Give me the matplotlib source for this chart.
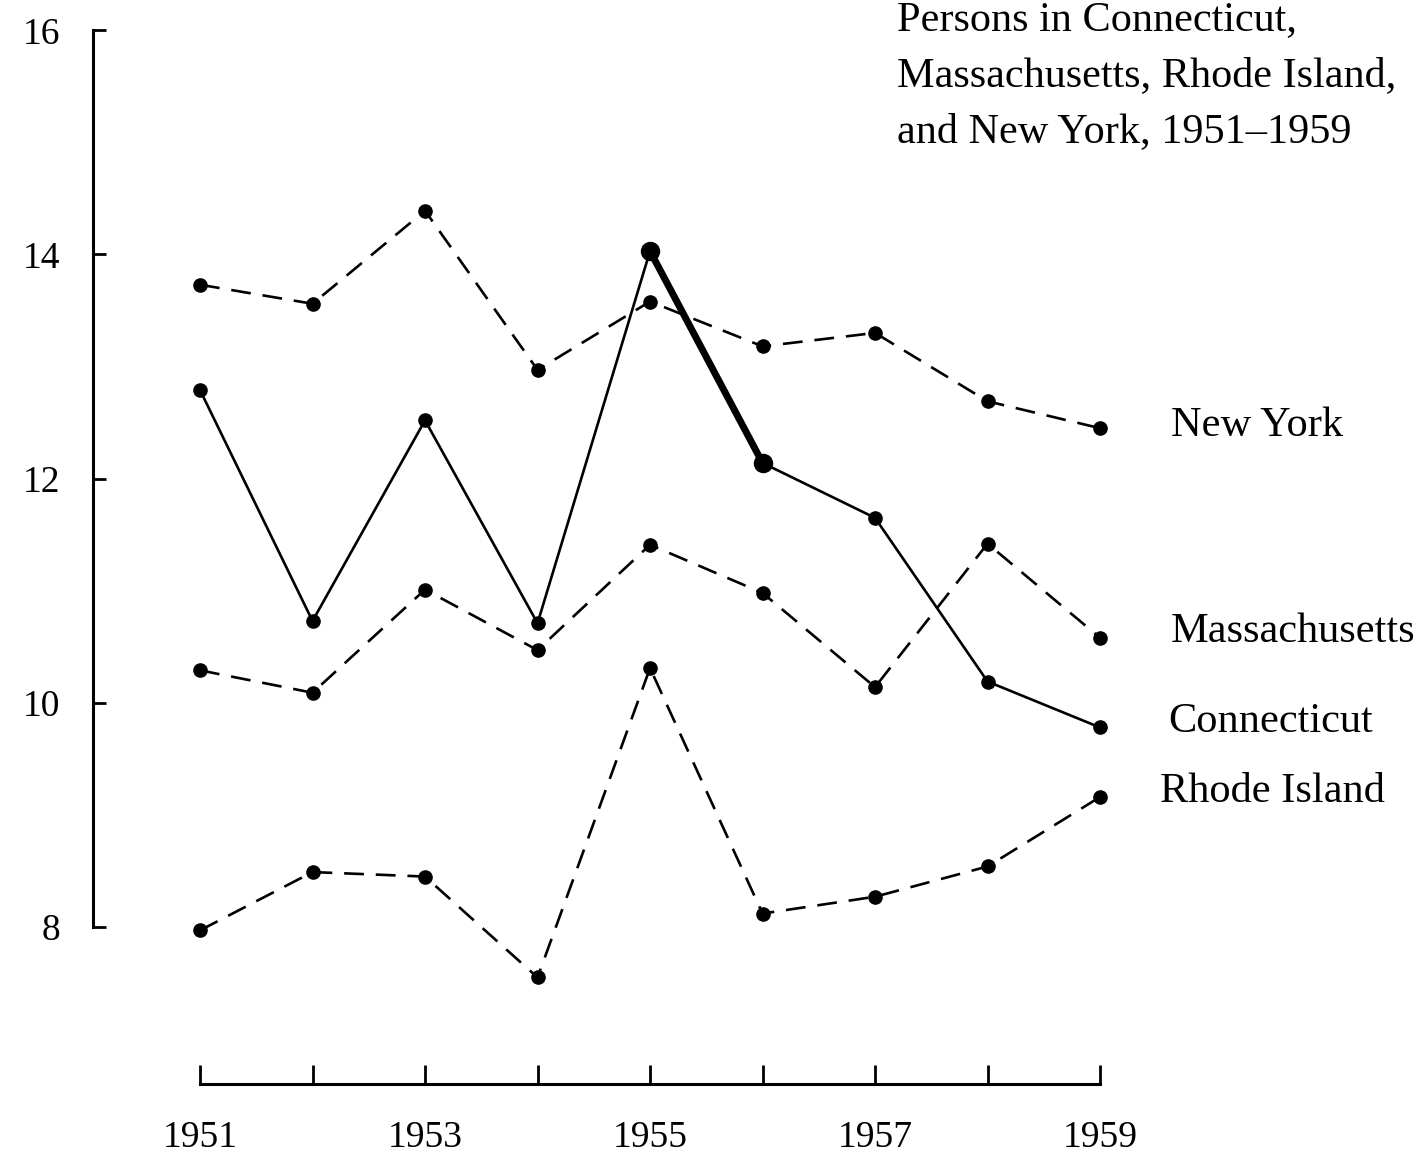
import matplotlib.pyplot as plt

years = [1951, 1952, 1953, 1954, 1955, 1956, 1957, 1958, 1959]
new_york = [13.73, 13.56, 14.39, 12.97, 13.58, 13.18, 13.30, 12.69, 12.45]
connecticut = [12.79, 10.73, 12.52, 10.71, 14.03, 12.14, 11.65, 10.19, 9.78]
massachusetts = [10.29, 10.09, 11.01, 10.47, 11.41, 10.98, 10.14, 11.42, 10.58]
rhode_island = [7.97, 8.49, 8.45, 7.55, 10.31, 8.12, 8.27, 8.54, 9.16]
yticks = [8, 10, 12, 14, 16]
xticks_labeled = [1951, 1953, 1955, 1957, 1959]
title_lines = ["Persons in Connecticut,", "Massachusetts, Rhode Island,",
               "and New York, 1951\u20131959"]

plt.rcParams["font.family"] = ["Liberation Serif", "DejaVu Serif"]

fig = plt.figure(figsize=(14.2, 11.68), dpi=100)
ax = fig.add_axes([0, 0, 1, 1])
ax.set_xlim(1949.222, 1961.844)
ax.set_ylim(5.85, 16.27)

dash = (0, (7.5, 4.5))
for vals in (new_york, massachusetts, rhode_island):
    ax.plot(years, vals, color="black", lw=1.9, linestyle=dash,
            marker="o", ms=9.5, zorder=3)

ax.plot(years, connecticut, color="black", lw=1.9, marker="o", ms=9.5, zorder=3)
# the crackdown year, drawn heavy
ax.plot(years[4:6], connecticut[4:6], color="black", lw=5, marker="o",
        ms=13, solid_capstyle="butt", zorder=4)

label_style = dict(fontsize=30.5, va="center", ha="left", color="black")
ax.text(1959.63, new_york[-1] + 0.02, "New York", **label_style)
ax.text(1959.63, massachusetts[-1] + 0.05, "Massachusetts", **label_style)
ax.text(1959.61, connecticut[-1] + 0.05, "Connecticut", **label_style)
ax.text(1959.53, rhode_island[-1] + 0.05, "Rhode Island", **label_style)

for i, line in enumerate(title_lines):
    fig.text(897 / 1420, 1 - (30 + 56 * i) / 1168, line, fontsize=30.4,
             va="baseline", ha="left")

for side in ("top", "right"):
    ax.spines[side].set_visible(False)
ax.spines["left"].set_position(("data", 1950.05))
ax.spines["left"].set_bounds(8, 16)
ax.spines["left"].set_linewidth(2.2)
ax.spines["bottom"].set_position(("data", 6.6))
ax.spines["bottom"].set_bounds(1951, 1959)
ax.spines["bottom"].set_linewidth(2.2)

ax.set_yticks(yticks)
ax.set_yticklabels([str(v) for v in yticks])
ax.set_xticks(years)
ax.set_xticklabels([str(y) if y in xticks_labeled else "" for y in years])
ax.tick_params(axis="y", direction="in", length=9, width=2, pad=24, labelsize=27)
ax.tick_params(axis="x", direction="in", length=14, width=2, pad=26, labelsize=27)

fig.savefig("out.png", dpi=100)
